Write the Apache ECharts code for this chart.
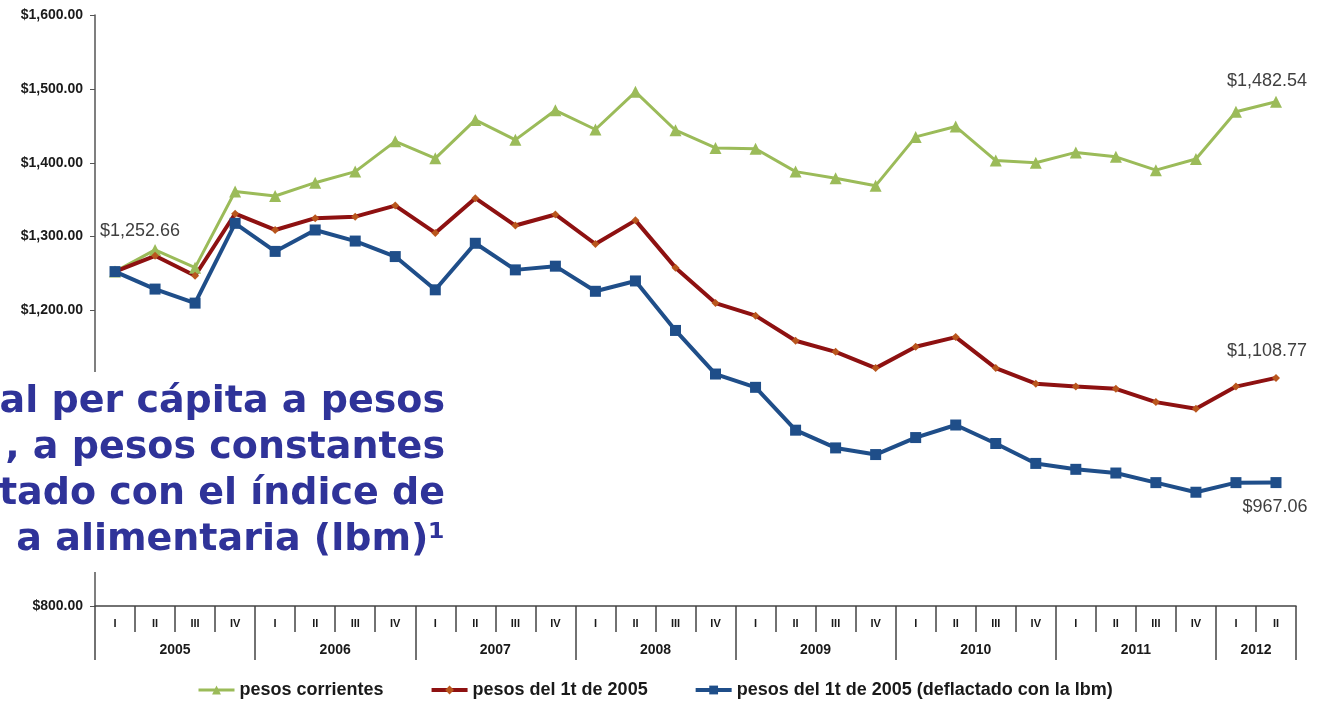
<!DOCTYPE html>
<html>
<head>
<meta charset="utf-8">
<script src="https://cdn.jsdelivr.net/npm/echarts@6/dist/echarts.min.js"></script>
<style>
  html, body { margin: 0; padding: 0; background: #fff; }
  #chart { width: 1322px; height: 705px; }
</style>
</head>
<body>
<div id="chart"></div>
<script>
// trimestres 2005 I - 2012 II
const quarters = [
  'I', 'II', 'III', 'IV', 'I', 'II', 'III', 'IV', 'I', 'II', 'III', 'IV',
  'I', 'II', 'III', 'IV', 'I', 'II', 'III', 'IV', 'I', 'II', 'III', 'IV',
  'I', 'II', 'III', 'IV', 'I', 'II'
]
const years = ['2005', '2006', '2007', '2008', '2009', '2010', '2011', '2012']
const yTicks = { min: 800, max: 1600, step: 100 }

const pesosCorrientes = [
  1252.66, 1282, 1258, 1361, 1355, 1373, 1388, 1429, 1406, 1458,
  1431, 1471, 1445, 1496, 1444, 1420, 1419, 1388, 1379, 1369,
  1435, 1449, 1403, 1400, 1414, 1408, 1390, 1405, 1469, 1482.54
]
const pesos2005 = [
  1252.66, 1274, 1247, 1331, 1309, 1325, 1327, 1342, 1305, 1352,
  1315, 1330, 1290, 1322, 1258, 1210, 1193, 1159, 1144, 1122,
  1151, 1164, 1122, 1101, 1097, 1094, 1076, 1067, 1097, 1108.77
]
const pesos2005Lbm = [
  1252.66, 1229, 1210, 1318, 1280, 1309, 1294, 1273, 1228, 1291,
  1255, 1260, 1226, 1240, 1173, 1114, 1096, 1038, 1014, 1005,
  1028, 1045, 1020, 993, 985, 980, 967, 954, 967, 967.06
]

const titleLines = [
  'al per cápita a pesos',
  ', a pesos constantes',
  'tado con el índice de',
  'a alimentaria (lbm)¹'
]

const fmt = v => {
  const [i, d] = v.toFixed(2).split('.')
  return '$' + i.replace(/\B(?=(\d{3})+(?!\d))/g, ',') + '.' + d
}

// etiqueta del año solo en el segundo trimestre de cada año
const yearAxisData = quarters.map((q, i) => {
  const y = Math.floor(i / 4)
  const lastInYear = Math.min(4, quarters.length - y * 4)
  const pos = y * 4 + Math.floor(lastInYear / 2) - 1
  return i === pos ? years[y] : ''
})

// puntos con etiqueta: [indice, offset]
const withLabels = (values, marks) => values.map((v, i) => {
  const m = marks.find(k => k[0] === i)
  if (!m) return v
  return {
    value: v,
    label: {
      show: true,
      position: 'inside',
      offset: m[1],
      formatter: p => fmt(p.value),
      fontFamily: 'Liberation Sans',
      fontSize: 18,
      color: '#404040'
    }
  }
})

const chart = echarts.init(document.getElementById('chart'))

const axisFont = { fontFamily: 'Liberation Sans', fontWeight: 'bold', color: '#1a1a1a' }

const option = {
  animation: false,
  grid: { left: 95, right: 26, top: 15, bottom: 99 },
  legend: {
    left: 197,
    top: 681,
    padding: 0,
    itemWidth: 36,
    itemHeight: 11,
    itemGap: 46,
    textStyle: { ...axisFont, fontSize: 18, color: '#1a1a1a' },
    data: [
      { name: 'pesos corrientes', lineStyle: { width: 3 } },
      { name: 'pesos del 1t de 2005', lineStyle: { width: 4 } },
      { name: 'pesos del 1t de 2005 (deflactado con la lbm)', lineStyle: { width: 4 } }
    ]
  },
  xAxis: [
    {
      type: 'category',
      data: quarters,
      boundaryGap: true,
      axisLine: { show: true, lineStyle: { color: '#444', width: 1.5 } },
      axisTick: { show: true, interval: 0, length: 26, lineStyle: { color: '#444', width: 1.5 } },
      axisLabel: { ...axisFont, fontSize: 11, interval: 0, margin: 12 }
    },
    {
      type: 'category',
      data: yearAxisData,
      position: 'bottom',
      boundaryGap: true,
      axisLine: { show: false },
      axisTick: {
        show: true,
        interval: i => i % 4 === 0,
        length: 54,
        lineStyle: { color: '#444', width: 1.5 }
      },
      axisLabel: { ...axisFont, fontSize: 14, interval: 0, margin: 37, padding: [0, 0, 0, 40] },
      splitLine: { show: false }
    }
  ],
  yAxis: {
    type: 'value',
    min: yTicks.min,
    max: yTicks.max,
    interval: yTicks.step,
    splitLine: { show: false },
    axisLine: { show: true, lineStyle: { color: '#555', width: 1.5 } },
    axisTick: { show: true, length: 5, lineStyle: { color: '#555' } },
    axisLabel: { ...axisFont, fontSize: 14, margin: 12, formatter: v => fmt(v) }
  },
  series: [
    {
      name: 'pesos corrientes',
      type: 'line',
      data: withLabels(pesosCorrientes, [[0, [25, -41]], [29, [-9, -21]]]),
      symbol: 'triangle',
      symbolSize: 12,
      lineStyle: { color: '#9bbb59', width: 3 },
      itemStyle: { color: '#9bbb59' }
    },
    {
      name: 'pesos del 1t de 2005',
      type: 'line',
      data: withLabels(pesos2005, [[29, [-9, -27]]]),
      symbol: 'diamond',
      symbolSize: 8,
      lineStyle: { color: '#8e1111', width: 4 },
      itemStyle: { color: '#b9561d' }
    },
    {
      name: 'pesos del 1t de 2005 (deflactado con la lbm)',
      type: 'line',
      data: withLabels(pesos2005Lbm, [[29, [-1, 24]]]),
      symbol: 'rect',
      symbolSize: 11,
      lineStyle: { color: '#1f4e89', width: 4 },
      itemStyle: { color: '#1f4e89' }
    }
  ],
  graphic: [
    {
      type: 'rect',
      z: 100,
      shape: { x: 0, y: 372, width: 455, height: 200 },
      style: { fill: '#fff' }
    },
    ...titleLines.map((t, i) => ({
      type: 'text',
      z: 101,
      x: 445,
      y: 402 + i * 46,
      style: {
        text: t,
        fill: '#2f3399',
        font: 'bold 38px "DejaVu Sans"',
        textAlign: 'right',
        textVerticalAlign: 'middle'
      }
    }))
  ]
}

chart.setOption(option)
window.addEventListener('resize', chart.resize)
</script>
</body>
</html>
